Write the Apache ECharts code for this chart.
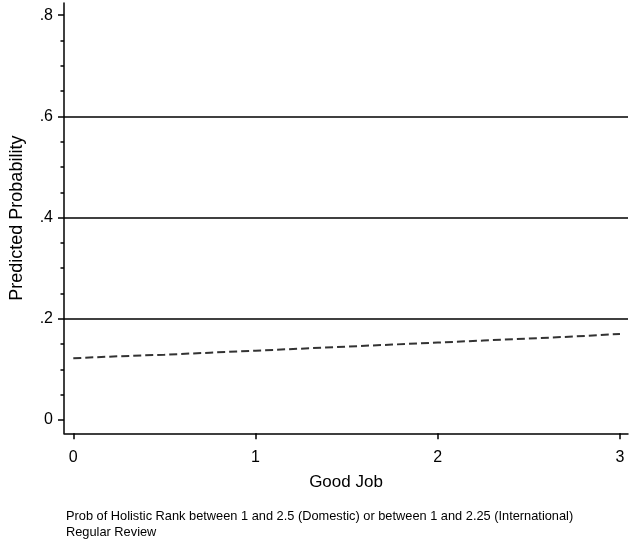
<!DOCTYPE html>
<html><head><meta charset="utf-8">
<script src="https://cdn.jsdelivr.net/npm/echarts@6/dist/echarts.min.js"></script>
<style>html,body{margin:0;padding:0;background:#fff}#c{width:634px;height:545px}</style>
</head><body><div id="c"></div>
<script>
const goodJob = [0, 0.25, 0.5, 0.75, 1, 1.25, 1.5, 1.75, 2, 2.25, 2.5, 2.75, 3];
const predProb = [0.122, 0.126, 0.129, 0.133, 0.137, 0.141, 0.145, 0.149, 0.153, 0.157, 0.161, 0.165, 0.170];
const yMajorTicks = [0, 0.2, 0.4, 0.6, 0.8];
const yTickLabels = ['0', '.2', '.4', '.6', '.8'];
const yMinorTicks = [0.05, 0.1, 0.15, 0.25, 0.3, 0.35, 0.45, 0.5, 0.55, 0.65, 0.7, 0.75];
const xTicks = [0, 1, 2, 3];
const refLines = [0.2, 0.4, 0.6];
const footnote = ['Prob of Holistic Rank between 1 and 2.5 (Domestic) or between 1 and 2.25 (International)', 'Regular Review'];

const font = "'Liberation Sans Narrow', 'Liberation Sans', Arial, sans-serif";
const chart = echarts.init(document.getElementById('c'));
chart.setOption({
  animation: false,
  title: {
    text: footnote.join('\n'), left: 66, top: 508, padding: 0,
    textStyle: { fontFamily: font, fontSize: 12.8, fontWeight: 'normal', color: '#000', lineHeight: 16 }
  },
  grid: { left: 64, right: 6, top: 3, bottom: 111.7, outerBoundsMode: 'none', containLabel: false },
  xAxis: {
    type: 'value', min: -0.051, max: 3.044,
    name: 'Good Job', nameLocation: 'middle', nameGap: 41,
    nameTextStyle: { fontFamily: font, fontSize: 17, color: '#000' },
    axisLine: { show: true, onZero: false, lineStyle: { color: '#000', width: 1.5 } },
    axisTick: { show: true, customValues: xTicks, length: 6, lineStyle: { color: '#000', width: 1.5 } },
    axisLabel: { customValues: xTicks, fontFamily: font, fontSize: 16, color: '#000', margin: 16,
      formatter: v => String(v) },
    splitLine: { show: false }
  },
  yAxis: [{
    type: 'value', min: -0.0263, max: 0.824,
    name: 'Predicted Probability', nameLocation: 'middle', nameGap: 38, nameRotate: 90,
    nameTextStyle: { fontFamily: "'Liberation Sans', Arial, sans-serif", fontSize: 18, color: '#000' },
    axisLine: { show: true, onZero: false, lineStyle: { color: '#000', width: 1.5 } },
    axisTick: { show: true, customValues: yMajorTicks, length: 6, lineStyle: { color: '#000', width: 1.5 } },
    axisLabel: { customValues: yMajorTicks, fontFamily: font, fontSize: 16, color: '#000', margin: 11,
      formatter: v => yTickLabels[yMajorTicks.findIndex(t => Math.abs(t - v) < 1e-6)] ?? '' },
    splitLine: { show: false }
  }, {
    type: 'value', min: -0.0263, max: 0.824, position: 'left', offset: 0,
    axisLine: { show: false, onZero: false },
    axisTick: { show: true, customValues: yMinorTicks, length: 3.5, lineStyle: { color: '#000', width: 1.5 } },
    axisLabel: { show: false },
    splitLine: { show: false }
  }],
  series: [{
    type: 'line', xAxisIndex: 0, yAxisIndex: 0,
    data: goodJob.map((x, i) => [x, predProb[i]]),
    showSymbol: false, symbol: 'none',
    lineStyle: { color: '#333', width: 2, type: [8, 4] },
    markLine: {
      silent: true, symbol: 'none', label: { show: false },
      lineStyle: { color: '#000', width: 1.5, type: 'solid' },
      data: refLines.map(v => ({ yAxis: v }))
    }
  }]
});
</script></body></html>
